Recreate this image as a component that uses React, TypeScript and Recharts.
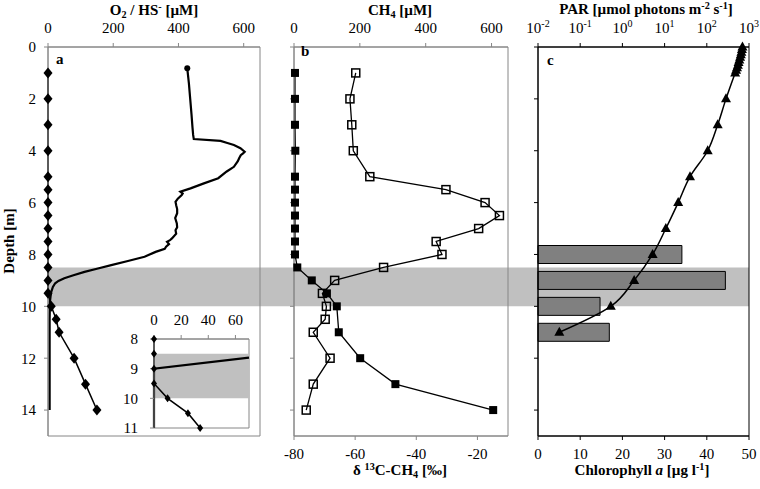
import React from 'react'
import { ComposedChart, Line, Bar, XAxis, YAxis, ReferenceArea } from 'recharts'

const FONT = 'Liberation Serif, serif'
const W = 760
const H = 489
const GRAY = '#868686'

// shared depth axis [m]
const depthTicks = [0, 2, 4, 6, 8, 10, 12, 14]
const bandDepths = [8.5, 10]

// panel a: O2 sensor profile and HS- samples [µM]
const o2Depth = [0.82, 1.4, 2.0, 2.6, 3.1, 3.39, 3.55, 3.62, 3.7, 3.78, 3.9, 4.04, 4.1, 4.17, 4.29, 4.4, 4.62, 4.8, 5.06, 5.26, 5.45, 5.58, 5.65, 5.71, 5.85, 5.97, 6.1, 6.25, 6.41, 6.6, 6.8, 6.95, 7.06, 7.2, 7.38, 7.45, 7.51, 7.6, 7.7, 7.78, 7.9, 8.09, 8.25, 8.41, 8.55, 8.67, 8.8, 8.92, 9.02, 9.11, 9.25, 9.44, 9.6, 9.82, 10.5, 12, 14]
const o2Values = [427, 432, 436, 440, 443, 445, 447, 529, 550, 570, 590, 603, 598, 591, 586, 582, 570, 548, 522, 478, 437, 406, 413, 410, 398, 391, 393, 396, 396, 390, 395, 396, 391, 393, 380, 374, 365, 371, 362, 358, 330, 296, 245, 194, 150, 112, 78, 50, 32, 22, 15, 10, 8, 6, 5, 5, 5]
const hsDepth = [1, 2, 3, 4, 5, 5.5, 6, 6.5, 7, 7.5, 8, 8.5, 9, 9.5, 10, 10.5, 11, 12, 13, 14]
const hsValues = [0, 0, 0, 0, 0, 0, 0, 0, 0, 0, 0, 0, 0, 0, 10, 25, 34, 80, 115, 150]
const o2Ticks = [0, 200, 400, 600]

// panel a inset (zoom 8-11 m)
const insetTicks = [8, 9, 10, 11]
const insetXTicks = [0, 20, 40, 60]
const insetO2Depth = [8.63, 9, 9.5, 10, 10.5, 11]
const insetO2Values = [70, 0, 0, 0, 0, 0]

// panel b: CH4 [µM] (filled) and δ13C-CH4 [‰] (open)
const ch4Depth = [1, 2, 3, 4, 5, 5.5, 6, 6.5, 7, 7.5, 8, 8.5, 9, 9.5, 10, 11, 12, 13, 14]
const ch4Values = [3, 3, 3, 4, 3, 3, 3, 3, 3, 3, 3, 10, 54, 100, 130, 136, 201, 308, 605]
const d13Depth = [1, 2, 3, 4, 5, 5.5, 6, 6.5, 7, 7.5, 8, 8.5, 9, 9.5, 10, 10.5, 11, 12, 13, 14]
const d13Values = [-59.8, -61.7, -61.1, -60.6, -55.2, -30.3, -17.5, -12.8, -19.6, -33.5, -31.6, -50.7, -66.7, -70.7, -69.4, -69.8, -73.7, -68.2, -73.7, -76]
const d13Ticks = [-80, -60, -40, -20]

// panel c: PAR [µmol photons m-2 s-1] and chlorophyll a [µg l-1]
const parDepth = [0, 0.1, 0.2, 0.3, 0.4, 0.5, 0.6, 0.7, 0.8, 0.9, 1, 2, 3, 4, 5, 6, 7, 8, 9, 10, 11]
const parValues = [700, 680, 660, 640, 615, 590, 565, 545, 520, 495, 470, 285, 181, 105, 40, 21, 10.7, 5.2, 1.9, 0.53, 0.032]
const parTicks = [0.01, 0.1, 1, 10, 100, 1000]
const chlDepth = [8, 9, 10, 11]
const chlValues = [34.1, 44.4, 14.7, 16.9]
const chlTicks = [0, 10, 20, 30, 40, 50]

const rows = (depths: number[], values: number[], key: string) =>
  depths.map((depth, i) => ({ depth, [key]: values[i] }))

const bandRows = bandDepths.map(depth => ({ depth, x: 0.5 }))
const o2Rows = rows(o2Depth, o2Values, 'o2')
const hsRows = rows(hsDepth, hsValues, 'hs')
const insetO2Rows = rows(insetO2Depth, insetO2Values, 'o2')
const insetHsRows = hsRows.filter(r => r.depth >= 8 && r.depth <= 11)
const ch4Rows = rows(ch4Depth, ch4Values, 'ch4')
const d13Rows = rows(d13Depth, d13Values, 'd13')
const parRows = rows(parDepth, parValues, 'par')
const chlRows = rows(chlDepth, chlValues, 'chl')

const tickText = { fill: '#000', fontSize: 15, fontFamily: FONT, style: { fontFamily: FONT } }
const abs: React.CSSProperties = { position: 'absolute', left: 0, top: 0 }

// markers
const Diamond = (p: any) => {
  const { cx, cy, index } = p
  if (cx == null || cy == null) return <g key={index} />
  return <path key={index} d={`M${cx} ${cy - 5.5}L${cx + 4.5} ${cy}L${cx} ${cy + 5.5}L${cx - 4.5} ${cy}Z`} fill="#000" />
}
const SmallDiamond = (p: any) => {
  const { cx, cy, index } = p
  if (cx == null || cy == null) return <g key={index} />
  return <path key={index} d={`M${cx} ${cy - 4}L${cx + 3} ${cy}L${cx} ${cy + 4}L${cx - 3} ${cy}Z`} fill="#000" />
}
const StartDot = (p: any) =>
  p.index === 0 ? <circle key="start" cx={p.cx} cy={p.cy} r={3} fill="#000" /> : <g key={p.index} />
const FilledSquare = (p: any) => <rect key={p.index} x={p.cx - 4} y={p.cy - 4} width={8} height={8} fill="#000" />
const OpenSquare = (p: any) => (
  <rect key={p.index} x={p.cx - 4} y={p.cy - 4} width={8} height={8} fill="none" stroke="#000" strokeWidth={1.5} />
)
const Triangle = (p: any) => {
  const { cx, cy, index } = p
  if (cx == null || cy == null) return <g key={index} />
  return <path key={index} d={`M${cx} ${cy - 5.5}L${cx + 5} ${cy + 3.5}L${cx - 5} ${cy + 3.5}Z`} fill="#000" />
}

const PowerTick = (p: any) => {
  const { x, y, payload } = p
  const exp = Math.round(Math.log10(payload.value))
  return (
    <text x={x} y={y} textAnchor="middle" fill="#000" fontSize={15} style={{ fontFamily: FONT }}>
      10<tspan dy={-6} fontSize={10}>{exp}</tspan>
    </text>
  )
}

const blank = () => ''

const title = (cx: number, top: number): React.CSSProperties => ({
  position: 'absolute', left: cx - 150, width: 300, top, textAlign: 'center',
  fontWeight: 'bold', fontSize: 15, lineHeight: '18px', whiteSpace: 'nowrap',
})
const sup: React.CSSProperties = { fontSize: '0.68em', verticalAlign: '0.45em', lineHeight: 0 }
const sub: React.CSSProperties = { fontSize: '0.68em', verticalAlign: '-0.25em', lineHeight: 0 }
const panelTag = (left: number, top: number): React.CSSProperties => ({
  position: 'absolute', left, top, fontWeight: 'bold', fontSize: 15, lineHeight: '18px',
})

export default function App() {
  return (
    <div style={{ position: 'absolute', left: 0, top: 0, width: W, height: H, background: '#fff', fontFamily: FONT, color: '#000' }}>
      {/* anoxic band across all panels */}
      <div style={abs}>
        <ComposedChart layout="vertical" width={W} height={H} data={bandRows} margin={{ top: 47, right: W - 749, bottom: H - 436, left: 48 }}>
          <XAxis xAxisId="bg" type="number" dataKey="x" domain={[0, 1]} allowDataOverflow hide />
          <YAxis yAxisId="bg" type="number" dataKey="depth" domain={[0, 15]} allowDataOverflow hide />
          <ReferenceArea xAxisId="bg" yAxisId="bg" x1={0} x2={1} y1={bandDepths[0]} y2={bandDepths[1]} fill="#c0c0c0" fillOpacity={1} stroke="none" ifOverflow="visible" />
        </ComposedChart>
      </div>

      {/* panel a */}
      <div style={abs}>
        <ComposedChart layout="vertical" width={W} height={H} margin={{ top: 17, right: W - 260, bottom: H - 436, left: 8 }}>
          <XAxis xAxisId="o2" orientation="top" type="number" domain={[0, 650]} ticks={o2Ticks} interval={0}
            height={30} tickSize={4} tickMargin={10} stroke={GRAY} tick={tickText} />
          <YAxis type="number" dataKey="depth" domain={[0, 15]} ticks={depthTicks} interval={0}
            width={40} tickSize={4} tickMargin={8} stroke={GRAY} tick={tickText} />
          <ReferenceArea xAxisId="o2" x1={0} x2={650} y1={0} y2={15} fill="none" stroke={GRAY} />
          <Line xAxisId="o2" data={o2Rows} dataKey="o2" stroke="#000" strokeWidth={2.2} dot={StartDot} isAnimationActive={false} />
          <Line xAxisId="o2" data={hsRows} dataKey="hs" stroke="#000" strokeWidth={1.5} dot={Diamond} isAnimationActive={false} />
        </ComposedChart>
      </div>

      {/* panel a inset */}
      <div style={abs}>
        <ComposedChart layout="vertical" width={W} height={H} margin={{ top: 319, right: W - 249, bottom: H - 428, left: 134 }}>
          <XAxis xAxisId="in" orientation="top" type="number" domain={[0, 70]} ticks={insetXTicks} interval={0}
            height={20} tickSize={4} tickMargin={10} stroke={GRAY} tick={tickText} />
          <YAxis type="number" dataKey="depth" domain={[8, 11]} ticks={insetTicks} interval={0}
            width={20} tickSize={4} tickMargin={12} stroke={GRAY} tick={tickText} />
          <ReferenceArea xAxisId="in" x1={0} x2={70} y1={8} y2={11} fill="#fff" fillOpacity={1} stroke={GRAY} />
          <ReferenceArea xAxisId="in" x1={0} x2={70} y1={bandDepths[0]} y2={bandDepths[1]} fill="#c0c0c0" fillOpacity={1} stroke="none" />
          <Line xAxisId="in" data={insetO2Rows} dataKey="o2" stroke="#000" strokeWidth={2.2} dot={false} isAnimationActive={false} />
          <Line xAxisId="in" data={insetHsRows} dataKey="hs" stroke="#000" strokeWidth={1.5} dot={SmallDiamond} isAnimationActive={false} />
        </ComposedChart>
      </div>

      {/* panel b */}
      <div style={abs}>
        <ComposedChart layout="vertical" width={W} height={H} margin={{ top: 17, right: W - 508, bottom: 23, left: 284 }}>
          <XAxis xAxisId="ch4" orientation="top" type="number" domain={[0, 650]} ticks={o2Ticks} interval={0}
            height={30} tickSize={4} tickMargin={10} stroke={GRAY} tick={tickText} />
          <XAxis xAxisId="d13" orientation="bottom" type="number" domain={[-80, -10]} ticks={d13Ticks} interval={0}
            height={30} tickSize={4} tickMargin={8} stroke={GRAY} tick={tickText} />
          <YAxis type="number" dataKey="depth" domain={[0, 15]} ticks={depthTicks} interval={0}
            width={10} tickSize={4} tickFormatter={blank} stroke={GRAY} />
          <ReferenceArea xAxisId="ch4" x1={0} x2={650} y1={0} y2={15} fill="none" stroke={GRAY} />
          <Line xAxisId="d13" data={d13Rows} dataKey="d13" stroke="#000" strokeWidth={1.3} dot={OpenSquare} isAnimationActive={false} />
          <Line xAxisId="ch4" data={ch4Rows} dataKey="ch4" stroke="#000" strokeWidth={1.3} dot={FilledSquare} isAnimationActive={false} />
        </ComposedChart>
      </div>

      {/* panel c: chlorophyll bars */}
      <div style={abs}>
        <ComposedChart layout="vertical" width={W} height={H} data={chlRows} margin={{ top: 47, right: 11, bottom: 23, left: 538 }}>
          <XAxis xAxisId="chl" orientation="bottom" type="number" domain={[0, 50]} ticks={chlTicks} interval={0}
            height={30} tickSize={4} tickMargin={8} stroke="#000" tick={tickText} />
          <YAxis type="number" dataKey="depth" domain={[0, 15]} hide />
          <Bar xAxisId="chl" dataKey="chl" barSize={18} fill="#808080" stroke="#000" strokeWidth={1} isAnimationActive={false} />
        </ComposedChart>
      </div>

      {/* panel c: PAR */}
      <div style={abs}>
        <ComposedChart layout="vertical" width={W} height={H} margin={{ top: 17, right: 11, bottom: H - 436, left: 528 }}>
          <XAxis xAxisId="par" orientation="top" type="number" scale="log" domain={[0.01, 1000]} ticks={parTicks} interval={0}
            allowDataOverflow height={30} tickSize={4} tickMargin={10} stroke="#000" tick={PowerTick} />
          <YAxis type="number" dataKey="depth" domain={[0, 15]} ticks={depthTicks} interval={0}
            width={10} tickSize={4} tickFormatter={blank} stroke="#000" />
          <ReferenceArea xAxisId="par" x1={0.01} x2={1000} y1={0} y2={15} fill="none" stroke="#000" />
          <Line xAxisId="par" data={parRows} dataKey="par" type="monotone" stroke="#000" strokeWidth={1.5} dot={Triangle} isAnimationActive={false} />
        </ComposedChart>
      </div>

      {/* titles */}
      <div style={title(154, 1)}>O<span style={sub}>2</span> / HS<span style={sup}>-</span> [µM]</div>
      <div style={title(400, 1)}>CH<span style={sub}>4</span> [µM]</div>
      <div style={title(646, 0)}>PAR [µmol photons m<span style={sup}>-2</span> s<span style={sup}>-1</span>]</div>
      <div style={title(400, 461)}>δ <span style={sup}>13</span>C-CH<span style={sub}>4</span> [‰]</div>
      <div style={title(642, 461)}>Chlorophyll <i>a</i> [µg l<span style={sup}>-1</span>]</div>
      <div style={{ position: 'absolute', left: 9 - 60, top: 241 - 9, width: 120, textAlign: 'center', fontWeight: 'bold', fontSize: 15, lineHeight: '18px', transform: 'rotate(-90deg)' }}>
        Depth [m]
      </div>
      <div style={panelTag(56, 50)}>a</div>
      <div style={panelTag(301, 42)}>b</div>
      <div style={panelTag(547, 51)}>c</div>
    </div>
  )
}
